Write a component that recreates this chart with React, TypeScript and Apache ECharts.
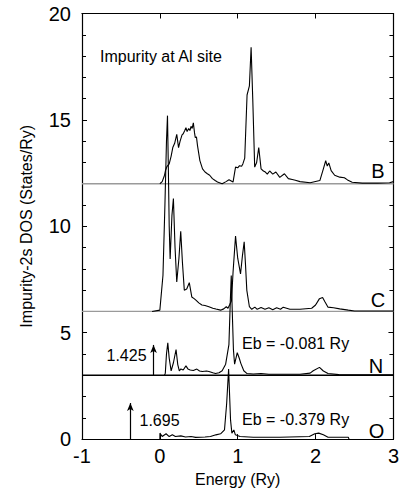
import React, { useEffect, useRef } from 'react';
import * as echarts from 'echarts';

const FONT = '"Liberation Sans", Arial, Helvetica, sans-serif';

// Impurity-2s DOS curves: [energy (Ry), DOS (States/Ry)] before vertical offset
const bCurve = [
  [0, 0], [0.03, 0.1], [0.06, 0.4], [0.072, 0.62], [0.09, 0.8], [0.12, 0.93], [0.145, 1.3], [0.166, 1.7],
  [0.19, 1.9], [0.217, 2.32], [0.24, 1.7], [0.26, 2.0], [0.285, 2.3], [0.3, 2.35], [0.32, 2.5], [0.335, 2.63],
  [0.35, 2.45], [0.37, 2.6], [0.386, 2.5], [0.4, 2.7], [0.415, 2.6], [0.43, 2.86], [0.445, 2.4], [0.455, 2.17],
  [0.47, 2.2], [0.484, 1.78], [0.514, 1.09], [0.548, 0.7], [0.58, 0.55], [0.61, 0.47], [0.64, 0.4], [0.675, 0.24],
  [0.71, 0.15], [0.74, 0.08], [0.8, 0.0], [0.85, 0.1], [0.888, 0.19], [0.94, 0.08], [0.972, 0.78], [1.0, 0.75],
  [1.023, 0.85], [1.05, 0.82], [1.066, 0.93], [1.09, 1.2], [1.12, 4.17], [1.15, 4.6], [1.172, 6.41], [1.193, 4.0],
  [1.218, 0.78], [1.243, 1.0], [1.27, 1.7], [1.3, 0.7], [1.33, 0.6], [1.355, 0.55], [1.38, 0.45], [1.41, 0.6],
  [1.45, 0.45], [1.49, 0.55], [1.54, 0.3], [1.6, 0.47], [1.65, 0.24], [1.7, 0.2], [1.74, 0.16], [1.8, 0.1],
  [1.93, 0.05], [2.055, 0.15], [2.1, 0.7], [2.13, 1.08], [2.15, 0.83], [2.17, 0.98], [2.2, 0.62], [2.245, 0.4],
  [2.31, 0.31], [2.37, 0.28], [2.41, 0.18], [2.47, 0.07], [2.6, 0.03], [2.8, 0.03], [2.95, 0.05], [3.0, 0.1],
];

const cCurve = [
  [-0.1, 0], [0, 0.06], [0.04, 1.7], [0.065, 5.0], [0.085, 8.0], [0.098, 9.2], [0.108, 7.0], [0.12, 4.0],
  [0.132, 2.46], [0.155, 4.5], [0.174, 5.31], [0.195, 3.0], [0.217, 1.38], [0.245, 2.5], [0.268, 3.77],
  [0.29, 2.3], [0.314, 1.0], [0.345, 1.05], [0.378, 1.35], [0.41, 0.68], [0.44, 0.6], [0.463, 0.53],
  [0.5, 0.4], [0.54, 0.3], [0.58, 0.28], [0.63, 0.22], [0.68, 0.15], [0.72, 0.11], [0.78, 0.06], [0.82, 0.12],
  [0.853, 0.22], [0.875, 0.15], [0.895, 0.3], [0.92, 0.5], [0.94, 1.84], [0.972, 3.54], [1.0, 2.5],
  [1.036, 1.76], [1.06, 2.6], [1.083, 3.27], [1.1, 2.2], [1.117, 0.99], [1.15, 0.22], [1.18, 0.1],
  [1.22, 0.2], [1.25, 0.1], [1.3, 0.18], [1.35, 0.1], [1.4, 0.17], [1.45, 0.08], [1.5, 0.17], [1.55, 0.1],
  [1.585, 0.2], [1.67, 0.1], [1.8, 0.1], [1.95, 0.15], [2.0, 0.3], [2.05, 0.6], [2.09, 0.65], [2.12, 0.45],
  [2.16, 0.2], [2.23, 0.17], [2.31, 0.12], [2.42, 0.06], [2.5, 0.02], [3.0, 0.02],
];

const nCurve = [
  [0.06, 0], [0.07, 0.1], [0.085, 1.0], [0.102, 1.52], [0.12, 0.8], [0.145, 0.21], [0.175, 0.6], [0.208, 1.21],
  [0.23, 0.5], [0.25, 0.21], [0.27, 0.3], [0.3, 0.25], [0.335, 0.44], [0.36, 0.3], [0.39, 0.25], [0.43, 0.22],
  [0.475, 0.29], [0.51, 0.2], [0.545, 0.18], [0.6, 0.2], [0.63, 0.18], [0.68, 0.12], [0.715, 0.08], [0.76, 0.12],
  [0.8, 0.21], [0.845, 0.52], [0.887, 1.44], [0.905, 3.5], [0.917, 4.69], [0.93, 3.0], [0.945, 1.2], [0.96, 0.52],
  [0.994, 1.06], [1.02, 0.8], [1.04, 0.56], [1.078, 0.21], [1.12, 0.08], [1.2, 0.06], [1.3, 0.08], [1.4, 0.05],
  [1.6, 0.05], [1.8, 0.05], [1.93, 0.1], [1.97, 0.21], [2.05, 0.37], [2.1, 0.2], [2.16, 0.08], [2.3, 0.03],
  [3.0, 0.02],
];

const oCurve = [
  [0, 0], [0.001, 0.28], [0.03, 0.12], [0.08, 0.25], [0.12, 0.12], [0.16, 0.2], [0.2, 0.12], [0.27, 0.15],
  [0.33, 0.1], [0.4, 0.12], [0.46, 0.08], [0.52, 0.09], [0.58, 0.1], [0.65, 0.12], [0.72, 0.2], [0.78, 0.25],
  [0.83, 0.43], [0.858, 1.67], [0.883, 3.29], [0.908, 0.89], [0.925, 0.28], [0.95, 0.43], [0.97, 0.2],
  [1.03, 0.12], [1.2, 0.09], [1.54, 0.09], [1.92, 0.12], [1.99, 0.25], [2.04, 0.28], [2.1, 0.2], [2.16, 0.09],
  [2.42, 0.09], [2.43, 0],
];

const impurityNames = ['B', 'C', 'N', 'O'];
const curveOffsets = [12, 6, 3, 0];
const baselineLevels = [12, 6, 3];
const baselineColors = ['#9a9a9a', '#9a9a9a', '#000000'];

// bound states (N, O): energy (Ry) and weight
const boundNames = ['N', 'O'];
const boundEnergy = [-0.081, -0.379];
const boundWeight = [1.425, 1.695];
const boundOffset = [3, 0];

const xTicks = { min: -1, max: 3, interval: 1 };
const yTicks = { min: 0, max: 20, interval: 5 };

export default function App() {
  const ref = useRef<HTMLDivElement>(null);

  useEffect(() => {
    document.body.style.margin = '0';
    const chart = echarts.init(ref.current!, null, { renderer: 'svg' });
    const curves = [bCurve, cCurve, nCurve, oCurve];

    const axisLineStyle = { color: '#000', width: 1.2 };
    const tickStyle = { color: '#000', width: 1 };

    const baselineSeries = baselineLevels.map((lv, i) => ({
      type: 'line',
      data: [[xTicks.min, lv], [xTicks.max, lv]],
      symbol: 'none',
      silent: true,
      lineStyle: { color: baselineColors[i], width: i === 2 ? 1.6 : 1.3 },
      z: 1,
    }));

    const curveSeries = curves.map((c, i) => {
      const s: any = {
        type: 'line',
        name: impurityNames[i],
        data: c.map(([e, d]) => [e, d + curveOffsets[i]]),
        symbol: 'none',
        silent: true,
        lineStyle: { color: '#000', width: 1.1 },
        z: 3,
      };
      const bi = boundNames.indexOf(impurityNames[i]);
      if (bi >= 0) {
        s.markLine = {
          silent: true,
          symbol: ['none', 'arrow'],
          symbolSize: [5, 8],
          label: { show: false },
          lineStyle: { color: '#000', width: 1.2, type: 'solid' },
          data: [[
            { coord: [boundEnergy[bi], boundOffset[bi]] },
            { coord: [boundEnergy[bi], boundOffset[bi] + boundWeight[bi]] },
          ]],
        };
      }
      return s;
    });

    const txt = (text: string, x: number, y: number, size: number, align = 'left') => ({
      type: 'text',
      x,
      y,
      silent: true,
      style: {
        text,
        fill: '#000',
        font: `${size}px ${FONT}`,
        textAlign: align,
        textVerticalAlign: 'middle',
      },
    });

    const labelPos = [[378, 170.5], [378, 300], [376, 366], [376.5, 430.5]];

    const option: any = {
      animation: false,
      textStyle: { fontFamily: FONT },
      grid: { left: 82, right: 5, top: 13.5, bottom: 46, containLabel: false },
      xAxis: [
        {
          type: 'value', position: 'bottom', ...xTicks,
          axisLine: { onZero: false, lineStyle: axisLineStyle },
          axisTick: { inside: true, length: 5, lineStyle: tickStyle },
          axisLabel: { fontSize: 20, color: '#000', margin: 7, fontFamily: FONT },
          splitLine: { show: false },
          name: 'Energy (Ry)', nameLocation: 'middle', nameGap: 29,
          nameTextStyle: { fontSize: 16, color: '#000', fontFamily: FONT },
        },
        {
          type: 'value', position: 'top', ...xTicks,
          axisLine: { onZero: false, lineStyle: axisLineStyle },
          axisTick: { inside: true, length: 5, lineStyle: tickStyle },
          axisLabel: { show: false },
          splitLine: { show: false },
        },
      ],
      yAxis: [
        {
          type: 'value', position: 'left', ...yTicks,
          axisLine: { onZero: false, lineStyle: axisLineStyle },
          axisTick: { inside: true, length: 5, lineStyle: tickStyle },
          minorTick: { show: true, splitNumber: 5, length: 4, lineStyle: tickStyle },
          axisLabel: { fontSize: 20, color: '#000', margin: 11, fontFamily: FONT },
          splitLine: { show: false },
          minorSplitLine: { show: false },
          name: 'Impurity-2s DOS (States/Ry)', nameLocation: 'middle', nameGap: 48,
          nameTextStyle: { fontSize: 16, color: '#000', fontFamily: FONT },
        },
        {
          type: 'value', position: 'right', ...yTicks,
          axisLine: { onZero: false, lineStyle: axisLineStyle },
          axisTick: { inside: true, length: 5, lineStyle: tickStyle },
          minorTick: { show: true, splitNumber: 5, length: 4, lineStyle: tickStyle },
          axisLabel: { show: false },
          splitLine: { show: false },
          minorSplitLine: { show: false },
        },
      ],
      series: [...baselineSeries, ...curveSeries],
      graphic: [
        txt('Impurity at Al site', 100, 56.7, 16),
        ...impurityNames.map((n, i) => txt(n, labelPos[i][0], labelPos[i][1], 20, 'center')),
        txt(`Eb = ${boundEnergy[0].toFixed(3)} Ry`, 242, 343, 16),
        txt(`Eb = ${boundEnergy[1].toFixed(3)} Ry`, 242, 419.5, 16),
        txt(boundWeight[0].toFixed(3), 106.5, 355, 16),
        txt(boundWeight[1].toFixed(3), 139.5, 420, 16),
      ],
    };

    chart.setOption(option);
    return () => chart.dispose();
  }, []);

  return <div ref={ref} style={{ width: 402, height: 492 }} />;
}
